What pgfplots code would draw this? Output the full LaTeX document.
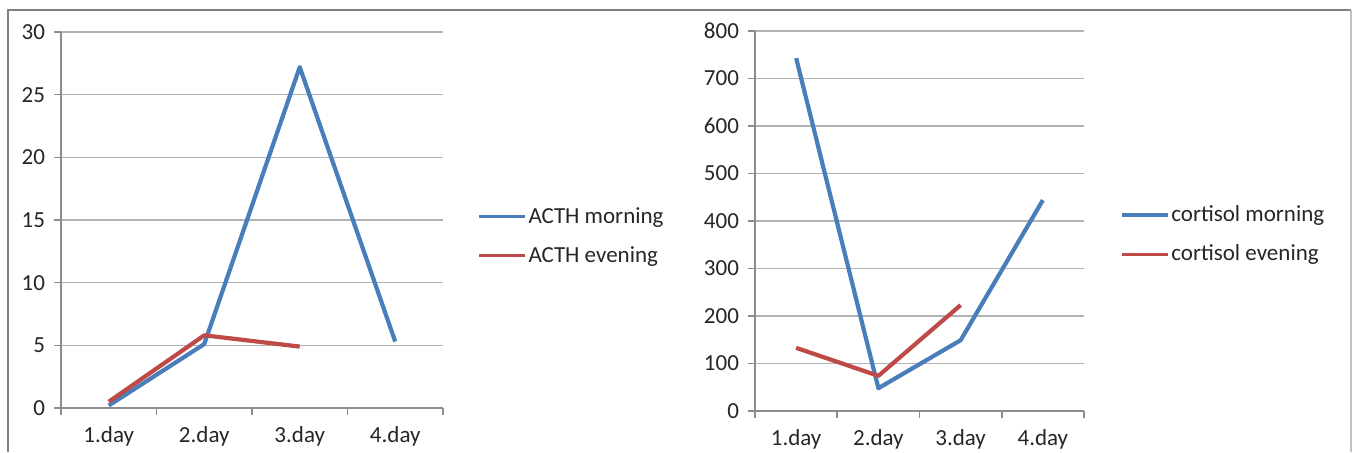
\documentclass[border=0pt]{standalone}
\usepackage{fontspec}
\setmainfont{Carlito}
\usepackage{pgfplots}
\pgfplotsset{compat=1.18}
\definecolor{serblue}{HTML}{4A7EBB}
\definecolor{serred}{HTML}{BE4B48}
\definecolor{gridgray}{HTML}{B3B3B3}
\definecolor{axgray}{HTML}{8C8C8C}
\definecolor{txt}{HTML}{262626}
\definecolor{framedark}{HTML}{808080}
\definecolor{framelight}{HTML}{C0C0C0}
\pgfplotsset{
 mystyle/.style={
  scale only axis,
  anchor=south west,
  axis x line=bottom, axis y line=left,
  axis line style={axgray, line width=0.8pt, -},
  xmin=0.5, xmax=4.5,
  xtick={0.5,1.5,2.5,3.5,4.5},
  xticklabels={1.day,2.day,3.day,4.day,},
  x tick label as interval,
  tick align=outside,
  major tick length=3.5pt,
  tick style={axgray, line width=0.8pt},
  ymajorgrids, grid style={gridgray, line width=0.8pt},
  tick label style={font=\fontsize{11.5}{13}\selectfont, text=txt},
  xticklabel style={yshift=-2pt},
  yticklabel style={xshift=-1pt},
  /pgf/number format/assume math mode=true,
  legend style={draw=none, fill=none, font=\fontsize{11.5}{13}\selectfont, text=txt,
    row sep=8.5pt, inner sep=0pt, nodes={inner sep=0.8pt}, anchor=west},
  legend cell align=left,
  legend image code/.code={\draw[##1, line width=1.75pt] (0pt,0pt) -- (23pt,0pt);},
  every axis plot/.append style={line width=2.1pt, line join=round},
 }
}
\begin{document}
\begin{tikzpicture}
\path[use as bounding box] (0,0) rectangle (676.5pt,226pt);
\draw[framedark, line width=1pt] (4pt,0) -- (4pt,221pt) -- (675.5pt,221pt);
\draw[framelight, line width=0.6pt] (675.5pt,221pt) -- (675.5pt,0);

\begin{axis}[mystyle,
  at={(30.5pt,22pt)}, width=191pt, height=188pt,
  ymin=0, ymax=30, ytick={0,5,...,30},
  legend style={at={(1.089,0.457)}}]
\addplot[serblue] coordinates {(1,0.2) (2,5.1) (3,27.2) (4,5.3)};
\addlegendentry{ACTH morning}
\addplot[serred] coordinates {(1,0.5) (2,5.8) (3,4.9)};
\addlegendentry{ACTH evening}
\end{axis}

\begin{axis}[mystyle,
  at={(377.5pt,20.5pt)}, width=164.5pt, height=190pt,
  ymin=0, ymax=800, ytick={0,100,...,800},
  legend style={at={(1.109,0.464)}}]
\addplot[serblue] coordinates {(1,743) (2,48) (3,149) (4,444)};
\addlegendentry{cortisol morning}
\addplot[serred] coordinates {(1,133) (2,74) (3,223)};
\addlegendentry{cortisol evening}
\end{axis}
\end{tikzpicture}
\end{document}
